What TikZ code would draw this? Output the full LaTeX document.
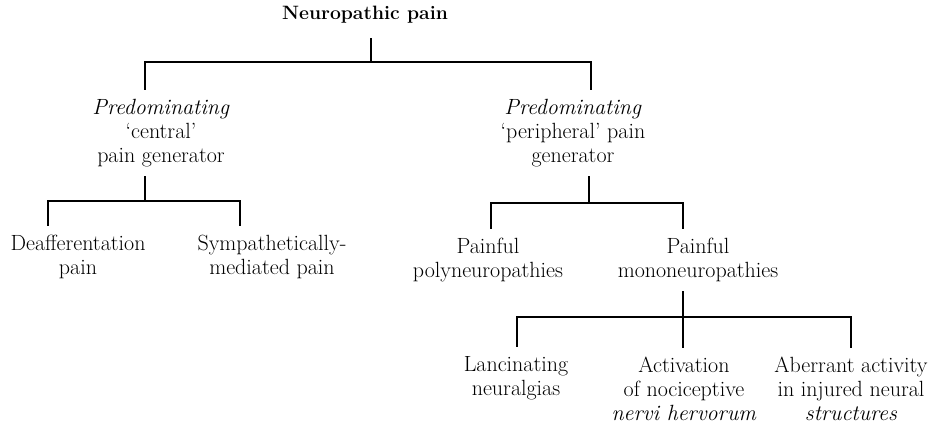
\documentclass[tikz,border=0pt]{standalone}
\usetikzlibrary{positioning}

\tikzset{
  lbl/.style={align=center, inner sep=0pt, outer sep=7pt,
    font=\fontsize{16.5}{18}\selectfont},
  bar/.style={line width=0.9pt},
}

\begin{document}
\begin{tikzpicture}[x=0.75pt, y=-0.75pt]
  \useasboundingbox (0,0) rectangle (928,424);

  % top level
  \node[lbl, outer sep=11pt, font=\fontsize{14.5}{18}\selectfont\bfseries] (root) at (365,15) {Neuropathic pain};
  \node[lbl] (central) at (161,133) {\textit{Predominating}\\`central'\\pain generator};
  \node[lbl] (periph) at (573,133) {\textit{Predominating}\\`peripheral' pain\\generator};

  % second level
  \node[lbl] (deaff) at (78,257) {Deafferentation\\pain};
  \node[lbl] (symp) at (272,257) {Sympathetically-\\mediated pain};
  \node[lbl] (poly) at (488,260) {Painful\\polyneuropathies};
  \node[lbl] (mono) at (698,260) {Painful\\mononeuropathies};

  % third level
  \node[lbl] (lanc) at (516,378) {Lancinating\\neuralgias};
  \node[lbl] (activ) at (684,389) {Activation\\of nociceptive\\\textit{nervi hervorum}};
  \node[lbl] (aberr) at (851,389) {Aberrant activity\\in injured neural\\\textit{structures}};

  % bars
  \coordinate (b1) at (371,62);
  \coordinate (bL) at (145,62);
  \coordinate (bR) at (591,62);
  \coordinate (c1) at (145,201);
  \coordinate (cL) at (48,201);
  \coordinate (cR) at (240,201);
  \coordinate (p1) at (589,203);
  \coordinate (pL) at (491,203);
  \coordinate (pR) at (683,203);
  \coordinate (m1) at (683,317);
  \coordinate (mL) at (517,317);
  \coordinate (mR) at (851,317);

  \draw[bar] (root.south -| b1) -- (b1);
  \draw[bar] (bL |- central.north) -- (bL) -- (bR) -- (bR |- periph.north);

  \draw[bar] (central.south -| c1) -- (c1);
  \draw[bar] (cL |- deaff.north) -- (cL) -- (cR) -- (cR |- symp.north);

  \draw[bar] (periph.south -| p1) -- (p1);
  \draw[bar] (pL |- poly.north) -- (pL) -- (pR) -- (pR |- mono.north);

  \draw[bar] (mono.south -| m1) -- (m1 |- activ.north);
  \draw[bar] (mL |- lanc.north) -- (mL) -- (mR) -- (mR |- aberr.north);
\end{tikzpicture}
\end{document}
